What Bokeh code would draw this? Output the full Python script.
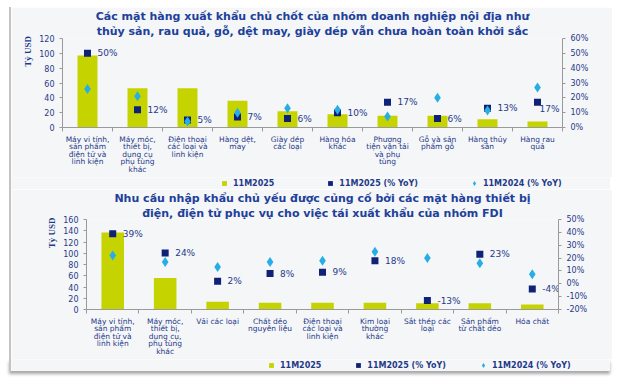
from bokeh.plotting import figure
from bokeh.models import (Range1d, LinearAxis, FixedTicker, PrintfTickFormatter,
                          Legend, LegendItem, Title, ColumnDataSource)
from bokeh.embed import file_html
from bokeh.resources import INLINE
from bokeh.core.properties import value

# ---------------- data ----------------
top_title = ["Các mặt hàng xuất khẩu chủ chốt của nhóm doanh nghiệp nội địa như",
             "thủy sản, rau quả, gỗ, dệt may, giày dép vẫn chưa hoàn toàn khởi sắc"]
top_categories = ["Máy vi tính,\nsản phẩm\nđiện tử và\nlinh kiện",
                  "Máy móc,\nthiết bị,\ndụng cụ\nphụ tùng\nkhác",
                  "Điện thoại\ncác loại và\nlinh kiện",
                  "Hàng dệt,\nmay",
                  "Giày dép\ncác loại",
                  "Hàng hóa\nkhác",
                  "Phương\ntiện vận tải\nvà phụ\ntùng",
                  "Gỗ và sản\nphẩm gỗ",
                  "Hàng thủy\nsản",
                  "Hàng rau\nquả"]
top_value_2025 = [97, 53, 53, 36, 22, 18, 16, 16, 11, 8]
top_yoy_2025 = [50, 12, 5, 7, 6, 10, 17, 6, 13, 17]
top_yoy_2024 = [26, 21, 4, 10, 13, 12, 7.5, 20, 11.5, 27]

bot_title = ["Nhu cầu nhập khẩu chủ yếu được củng cố bởi các mặt hàng thiết bị",
             "điện, điện tử phục vụ cho việc tái xuất khẩu của nhóm FDI"]
bot_categories = ["Máy vi tính,\nsản phẩm\nđiện tử và\nlinh kiện",
                  "Máy móc,\nthiết bị,\ndụng cụ,\nphụ tùng\nkhác",
                  "Vải các loại",
                  "Chất dẻo\nnguyên liệu",
                  "Điện thoại\ncác loại và\nlinh kiện",
                  "Kim loại\nthường\nkhác",
                  "Sắt thép các\nloại",
                  "Sản phẩm\ntừ chất dẻo",
                  "Hóa chất"]
bot_value_2025 = [137, 56, 14, 12, 12, 12, 11, 11, 9]
bot_yoy_2025 = [39, 24, 2, 8, 9, 18, -13, 23, -4]
bot_yoy_2024 = [22, 17, 13, 17, 18, 25, 20, 16, 7.5]

series_names = ["11M2025", "11M2025 (% YoY)", "11M2024 (% YoY)"]
y_unit = "Tỷ USD"

# ---------------- style ----------------
FONT = "DejaVu Sans"
NAVY = "#1f3a8a"
TITLE_C = "#20409a"
BAR_C = "#c5d300"
SQ_C = "#0f2277"
DIA_C = "#27aee6"
BG = "#f5f6f7"
AXIS_C = "#9a9a9a"
EDGE = "2px solid #c4c4c4"

# label offsets (px) for a few crowded points
top_lbl_dx = [10, 10, 10, 10, 10, 10, 10, 10, 10, 2]
top_lbl_dy = [0, 0, 0, 0, 0, 0, 0, 0, 0, 7]
bot_lbl_dx = [10] * 9
bot_lbl_dy = [0] * 9


def root_styles(extra=None):
    s = {"margin-left": "9px", "border-left": EDGE}
    if extra:
        s.update(extra)
    return s


def make_chart(titles, cats, vals, yoy25, yoy24, left_max, left_step, pmin, pmax,
               pstep, ml, fw, mr, fh, mt, mb, bar_w, lbl_dx, lbl_dy, unit_pad,
               title_standoff, styles):
    n = len(cats)
    xs = list(range(1, n + 1))
    p = figure(frame_width=fw, frame_height=fh,
               x_range=Range1d(0.5, n + 0.5), y_range=Range1d(0, left_max),
               output_backend="svg", toolbar_location=None,
               min_border_left=ml, min_border_right=mr, min_border_top=mt,
               min_border_bottom=mb,
               background_fill_color=BG, border_fill_color=BG, outline_line_color=None,
               styles=styles)
    p.extra_y_ranges = {"pct": Range1d(pmin, pmax)}
    p.xgrid.visible = False
    p.ygrid.visible = False

    p.add_layout(Title(text=titles[1], align="center", text_font=FONT,
                       text_font_size="11px", text_font_style="bold",
                       text_color=TITLE_C, standoff=title_standoff, offset=0), "above")
    p.add_layout(Title(text=titles[0], align="center", text_font=FONT,
                       text_font_size="11px", text_font_style="bold",
                       text_color=TITLE_C, standoff=0, offset=0), "above")

    src = ColumnDataSource(dict(x=xs, v=vals, y25=yoy25, y24=yoy24,
                                lbl=[f"{v:g}%" for v in yoy25],
                                dx=lbl_dx, dy=lbl_dy))
    p.vbar(x="x", top="v", width=bar_w, source=src, fill_color=BAR_C, line_color=None)
    p.scatter(x="x", y="y25", marker="square", size=7, source=src,
              fill_color=SQ_C, line_color=None, y_range_name="pct")
    p.scatter(x="x", y="y24", marker="diamond", size=10, source=src,
              fill_color=DIA_C, line_color=None, y_range_name="pct")
    p.text(x="x", y="y25", text="lbl", x_offset="dx", y_offset="dy", source=src,
           y_range_name="pct", text_font=value(FONT), text_font_size="9px",
           text_color=NAVY, text_baseline="middle", text_align="left")

    # left axis
    ax = p.yaxis[0]
    ax.ticker = FixedTicker(ticks=list(range(0, left_max + 1, left_step)))
    ax.axis_label = "\u00a0" * unit_pad + y_unit
    ax.axis_label_text_font = "Liberation Sans Narrow"
    ax.axis_label_text_font_size = "9px"
    ax.axis_label_text_font_style = "bold"
    ax.axis_label_text_color = NAVY
    ax.axis_label_standoff = 3
    ax.major_label_text_font = FONT
    ax.major_label_text_font_size = "8px"
    ax.major_label_text_color = NAVY
    ax.axis_line_color = AXIS_C
    ax.major_tick_line_color = AXIS_C
    ax.major_tick_out = 3
    ax.major_tick_in = 0
    ax.minor_tick_line_color = None

    # right axis
    ra = LinearAxis(y_range_name="pct",
                    ticker=FixedTicker(ticks=list(range(pmin, pmax + 1, pstep))),
                    formatter=PrintfTickFormatter(format="%d%%"))
    ra.major_label_text_font = FONT
    ra.major_label_text_font_size = "8px"
    ra.major_label_text_color = NAVY
    ra.axis_line_color = AXIS_C
    ra.major_tick_line_color = AXIS_C
    ra.major_tick_out = 3
    ra.major_tick_in = 0
    ra.minor_tick_line_color = None
    p.add_layout(ra, "right")

    # x axis
    xa = p.xaxis[0]
    xa.ticker = FixedTicker(ticks=xs, minor_ticks=[i + 0.5 for i in range(0, n + 1)])
    xa.major_label_overrides = {i + 1: c for i, c in enumerate(cats)}
    xa.major_label_text_font = FONT
    xa.major_label_text_font_size = "7.5px"
    xa.major_label_text_line_height = 0.85
    xa.major_label_text_color = NAVY
    xa.major_tick_line_color = None
    xa.major_tick_out = 0
    xa.major_tick_in = 0
    xa.minor_tick_line_color = AXIS_C
    xa.minor_tick_out = 4
    xa.minor_tick_in = 0
    xa.axis_line_color = AXIS_C
    xa.major_label_standoff = 3
    return p


def make_legend(total_w, h, loc, spacing, styles):
    lg = figure(width=total_w, height=h, x_range=Range1d(0, total_w),
                y_range=Range1d(0, h), output_backend="svg", toolbar_location=None,
                x_axis_type=None, y_axis_type=None, min_border=0,
                background_fill_color=BG, border_fill_color=BG,
                outline_line_color=None, styles=styles)
    lg.xgrid.visible = False
    lg.ygrid.visible = False
    # legend-only renderers, kept outside the visible range
    off = dict(x=[-100], y=[-100])
    r_bar = lg.scatter(x="x", y="y", marker="square", size=7,
                       source=ColumnDataSource(off), fill_color=BAR_C, line_color=None)
    r_sq = lg.scatter(x="x", y="y", marker="square", size=7,
                      source=ColumnDataSource(off), fill_color=SQ_C, line_color=None)
    r_dia = lg.scatter(x="x", y="y", marker="diamond", size=7,
                       source=ColumnDataSource(off), fill_color=DIA_C, line_color=None)
    legend = Legend(items=[LegendItem(label=series_names[0], renderers=[r_bar]),
                           LegendItem(label=series_names[1], renderers=[r_sq]),
                           LegendItem(label=series_names[2], renderers=[r_dia])],
                    orientation="horizontal", location=loc,
                    background_fill_alpha=0, border_line_color=None,
                    label_text_font=FONT, label_text_font_size="8px",
                    label_text_font_style="bold", label_text_color=NAVY,
                    glyph_width=12, glyph_height=12, label_standoff=3,
                    spacing=spacing, padding=0, margin=0, label_height=9)
    lg.add_layout(legend, "center")
    return lg


p1 = make_chart(top_title, top_categories, top_value_2025, top_yoy_2025, top_yoy_2024,
                120, 20, 0, 60, 10, ml=51, fw=500, mr=50, fh=89, mt=31, mb=30,
                bar_w=0.4, lbl_dx=top_lbl_dx, lbl_dy=top_lbl_dy, unit_pad=28,
                title_standoff=1, styles=root_styles({"margin-top": "7px"}))
l1 = make_legend(601, 12, (207, 0), 50, root_styles())
p2 = make_chart(bot_title, bot_categories, bot_value_2025, bot_yoy_2025, bot_yoy_2024,
                160, 20, -20, 50, 10, ml=75, fw=472, mr=54, fh=90, mt=26, mb=30,
                bar_w=0.43, lbl_dx=bot_lbl_dx, lbl_dy=bot_lbl_dy, unit_pad=28,
                title_standoff=0, styles=root_styles())
l2 = make_legend(601, 12, (254, 0), 31,
                 root_styles({"box-shadow": "0px 3px 3px #a8a8a8"}))

open("out.html", "w").write(file_html([p1, l1, p2, l2], INLINE))
